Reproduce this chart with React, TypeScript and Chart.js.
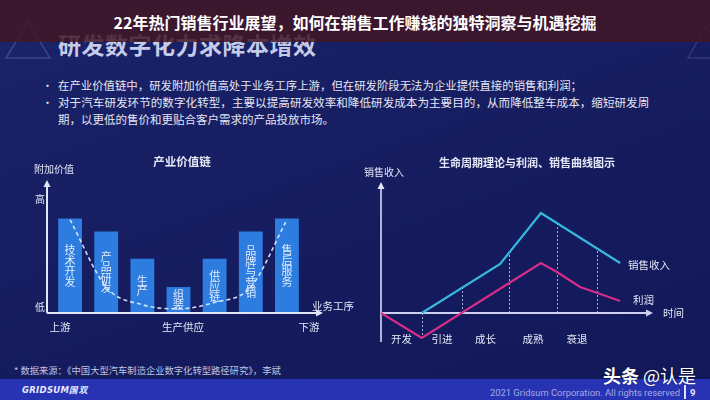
import React, { useEffect, useRef } from 'react';
import { Chart, registerables } from 'chart.js';

Chart.register(...registerables);

// ---------- page texts ----------
const pageTitle = '22年热门销售行业展望，如何在销售工作赚钱的独特洞察与机遇挖掘';
const slideHeading = '研发数字化力求降本增效';
const bulletLines = [
  '在产业价值链中，研发附加价值高处于业务工序上游，但在研发阶段无法为企业提供直接的销售和利润；',
  '对于汽车研发环节的数字化转型，主要以提高研发效率和降低研发成本为主要目的，从而降低整车成本，缩短研发周',
  '期，以更低的售价和更贴合客户需求的产品投放市场。',
];
const footnote = '* 数据来源：《中国大型汽车制造企业数字化转型路径研究》，李斌';

// ---------- left chart: 产业价值链 ----------
const chainTitle = '产业价值链';
const chainStages = ['技术开发', '产品研发', '生产', '组装', '供应链', '品牌与营销', '售后服务'];
const addedValue = [8.0, 6.9, 4.6, 2.2, 4.6, 6.9, 8.0];
const smileCurve = [7.9, 2.2, 0.7, 0.35, 0.9, 2.2, 7.9];
const chainYLabel = '附加价值';
const chainHigh = '高';
const chainLow = '低';
const chainXLabel = '业务工序';
const chainBottomLabels = ['上游', '生产供应', '下游'];

// ---------- right chart: 生命周期 ----------
const cycleTitle = '生命周期理论与利润、销售曲线图示';
const cycleYLabel = '销售收入';
const cycleXLabel = '时间';
const salesName = '销售收入';
const profitName = '利润';
const salesTime = [15, 43.8, 58.8, 87.9];
const salesRevenue = [0, 4.9, 10.0, 5.0];
const profitTime = [0, 15, 58.8, 64.7, 73.2, 79.6, 87.9];
const profitValue = [0, -2.5, 5.0, 4.1, 2.6, 2.0, 1.2];
const phaseBounds = [15, 29.8, 47, 64.7, 79.4];
const phaseNames = ['开发', '引进', '成长', '成熟', '衰退'];

const FONT = '"Noto Sans CJK SC", "Noto Sans", sans-serif';
const LABEL = '#e4e8f6';

function interp(xs: number[], ys: number[], t: number): number {
  if (t < xs[0] || t > xs[xs.length - 1]) return 0;
  for (let i = 0; i < xs.length - 1; i++) {
    if (t >= xs[i] && t <= xs[i + 1]) {
      const f = (t - xs[i]) / (xs[i + 1] - xs[i] || 1);
      return ys[i] + f * (ys[i + 1] - ys[i]);
    }
  }
  return 0;
}

function tri(ctx: CanvasRenderingContext2D, pts: number[][]) {
  ctx.beginPath();
  ctx.moveTo(pts[0][0], pts[0][1]);
  ctx.lineTo(pts[1][0], pts[1][1]);
  ctx.lineTo(pts[2][0], pts[2][1]);
  ctx.closePath();
  ctx.fill();
}

const valueChainDeco = {
  id: 'valueChainDeco',
  afterDatasetDraw(chart: any, args: any) {
    if (args.index !== 1) return;
    const ctx: CanvasRenderingContext2D = chart.ctx;
    ctx.save();
    ctx.font = `11px ${FONT}`;
    ctx.fillStyle = 'rgba(235,242,255,0.95)';
    ctx.textAlign = 'center';
    ctx.textBaseline = 'middle';
    args.meta.data.forEach((bar: any, i: number) => {
      const p = bar.getProps(['x', 'y', 'base'], true);
      const chars = Array.from(chainStages[i]);
      const lh = 10.5;
      const mid = (p.y + p.base) / 2;
      const start = mid - ((chars.length - 1) * lh) / 2;
      chars.forEach((c, j) => ctx.fillText(c, p.x, start + j * lh));
    });
    ctx.restore();
  },
  afterDraw(chart: any) {
    const ctx: CanvasRenderingContext2D = chart.ctx;
    const ca = chart.chartArea;
    const ax = ca.left - 5;
    const B = ca.bottom;
    ctx.save();
    ctx.strokeStyle = '#dfe6f8';
    ctx.fillStyle = '#dfe6f8';
    ctx.lineWidth = 2;
    ctx.beginPath();
    ctx.moveTo(ax, B);
    ctx.lineTo(ax, ca.top - 9);
    ctx.moveTo(ax, B);
    ctx.lineTo(ca.right + 12, B);
    ctx.stroke();
    tri(ctx, [[ax, ca.top - 15], [ax - 3.5, ca.top - 8], [ax + 3.5, ca.top - 8]]);
    tri(ctx, [[ca.right + 18, B], [ca.right + 11, B - 3.5], [ca.right + 11, B + 3.5]]);

    ctx.fillStyle = LABEL;
    ctx.textBaseline = 'middle';
    ctx.textAlign = 'center';
    ctx.font = `bold 11.5px ${FONT}`;
    ctx.fillText(chainTitle, ca.left + 130, 17);
    ctx.font = `10px ${FONT}`;
    ctx.fillText(chainYLabel, ax + 7, ca.top - 26);
    ctx.fillText(chainHigh, ax - 7, ca.top + 4);
    ctx.fillText(chainLow, ax - 7, B - 6);
    ctx.textAlign = 'left';
    ctx.font = `10.5px ${FONT}`;
    ctx.fillText(chainXLabel, ca.right + 7, B - 7);
    ctx.textAlign = 'center';
    ctx.fillText(chainBottomLabels[0], ax + 13, B + 14);
    ctx.fillText(chainBottomLabels[1], ca.left + 131, B + 14);
    ctx.fillText(chainBottomLabels[2], ca.right + 4, B + 14);
    ctx.restore();
  },
};

const lifeCycleDeco = {
  id: 'lifeCycleDeco',
  beforeDatasetsDraw(chart: any) {
    const ctx: CanvasRenderingContext2D = chart.ctx;
    const ca = chart.chartArea;
    const xs = chart.scales.x;
    const ys = chart.scales.y;
    const y0 = ys.getPixelForValue(0);
    ctx.save();
    ctx.strokeStyle = 'rgba(215,222,255,0.75)';
    ctx.lineWidth = 1;
    ctx.setLineDash([2, 2]);
    phaseBounds.forEach((b) => {
      const s = interp(salesTime, salesRevenue, b);
      const p = interp(profitTime, profitValue, b);
      const v = Math.abs(s) >= Math.abs(p) ? s : p;
      const x = Math.round(xs.getPixelForValue(b)) + 0.5;
      ctx.beginPath();
      ctx.moveTo(x, y0);
      ctx.lineTo(x, ys.getPixelForValue(v));
      ctx.stroke();
    });
    ctx.setLineDash([]);
    ctx.strokeStyle = '#e4e6f8';
    ctx.fillStyle = '#e4e6f8';
    ctx.lineWidth = 1.5;
    ctx.beginPath();
    ctx.moveTo(ca.left, ca.bottom);
    ctx.lineTo(ca.left, ca.top + 6);
    ctx.stroke();
    tri(ctx, [[ca.left, ca.top], [ca.left - 3.5, ca.top + 7], [ca.left + 3.5, ca.top + 7]]);
    ctx.strokeStyle = '#cfd0f2';
    ctx.fillStyle = '#cfd0f2';
    ctx.lineWidth = 2;
    ctx.beginPath();
    ctx.moveTo(ca.left, y0);
    ctx.lineTo(ca.right - 6, y0);
    ctx.stroke();
    tri(ctx, [[ca.right, y0], [ca.right - 7, y0 - 3.5], [ca.right - 7, y0 + 3.5]]);
    ctx.restore();
  },
  afterDraw(chart: any) {
    const ctx: CanvasRenderingContext2D = chart.ctx;
    const ca = chart.chartArea;
    const xs = chart.scales.x;
    const ys = chart.scales.y;
    const y0 = ys.getPixelForValue(0);
    ctx.save();
    ctx.fillStyle = LABEL;
    ctx.textBaseline = 'middle';
    ctx.textAlign = 'center';
    ctx.font = `bold 11px ${FONT}`;
    ctx.fillText(cycleTitle, 167, 18);
    ctx.font = `10px ${FONT}`;
    ctx.fillText(cycleYLabel, ca.left + 3, ca.top - 10);
    ctx.font = `10.5px ${FONT}`;
    const bounds = [0, ...phaseBounds];
    phaseNames.forEach((n, i) => {
      const mid = (bounds[i] + bounds[i + 1]) / 2;
      ctx.fillText(n, xs.getPixelForValue(mid), y0 + 26);
    });
    ctx.textAlign = 'left';
    ctx.fillText(cycleXLabel, ca.right + 10, y0);
    const sx = xs.getPixelForValue(salesTime[salesTime.length - 1]);
    const sy = ys.getPixelForValue(salesRevenue[salesRevenue.length - 1]);
    ctx.fillText(salesName, sx + 8, sy + 2);
    const px = xs.getPixelForValue(profitTime[profitTime.length - 1]);
    const py = ys.getPixelForValue(profitValue[profitValue.length - 1]);
    ctx.fillText(profitName, px + 13, py - 1);
    ctx.restore();
  },
};

function ValueChainChart() {
  const ref = useRef<HTMLCanvasElement>(null);
  useEffect(() => {
    if (!ref.current) return;
    const chart = new Chart(ref.current, {
      type: 'bar',
      data: {
        labels: chainStages,
        datasets: [
          {
            type: 'line',
            data: smileCurve,
            borderColor: 'rgba(225,236,255,0.92)',
            borderWidth: 1.6,
            borderDash: [4, 3],
            pointRadius: 0,
            cubicInterpolationMode: 'monotone',
            fill: false,
          } as any,
          {
            type: 'bar',
            data: addedValue,
            backgroundColor: '#2d7ce0',
            borderWidth: 0,
            barPercentage: 0.66,
            categoryPercentage: 1,
          } as any,
        ],
      },
      options: {
        responsive: false,
        animation: false,
        layout: { padding: { left: 32, right: 55, top: 50, bottom: 27 } },
        plugins: { legend: { display: false }, tooltip: { enabled: false } },
        scales: {
          x: { display: false, offset: true },
          y: { display: false, min: 0, max: 10 },
        },
      },
      plugins: [valueChainDeco],
    });
    return () => chart.destroy();
  }, []);
  return <canvas ref={ref} width={340} height={195} style={{ display: 'block' }} />;
}

function LifeCycleChart() {
  const ref = useRef<HTMLCanvasElement>(null);
  useEffect(() => {
    if (!ref.current) return;
    const chart = new Chart(ref.current, {
      type: 'line',
      data: {
        datasets: [
          {
            label: salesName,
            data: salesTime.map((t, i) => ({ x: t, y: salesRevenue[i] })),
            borderColor: '#36b8de',
            borderWidth: 2.2,
            pointRadius: 0,
            tension: 0,
            fill: false,
          },
          {
            label: profitName,
            data: profitTime.map((t, i) => ({ x: t, y: profitValue[i] })),
            borderColor: '#d62e88',
            borderWidth: 2.2,
            pointRadius: 0,
            tension: 0,
            fill: false,
          },
        ],
      },
      options: {
        responsive: false,
        animation: false,
        layout: { padding: { left: 21, right: 57, top: 37, bottom: 13 } },
        plugins: { legend: { display: false }, tooltip: { enabled: false } },
        scales: {
          x: { type: 'linear', display: false, min: 0, max: 100 },
          y: { display: false, min: -2.9, max: 13.1 },
        },
      },
      plugins: [lifeCycleDeco],
    });
    return () => chart.destroy();
  }, []);
  return <canvas ref={ref} width={350} height={210} style={{ display: 'block' }} />;
}

const abs = (left: number, cy: number, lh: number, extra: React.CSSProperties = {}): React.CSSProperties => ({
  position: 'absolute',
  left,
  top: cy - lh / 2,
  lineHeight: `${lh}px`,
  whiteSpace: 'nowrap',
  ...extra,
});

export default function App() {
  return (
    <div
      style={{
        position: 'fixed',
        left: 0,
        top: 0,
        width: 710,
        height: 400,
        overflow: 'hidden',
        background: 'linear-gradient(160deg, #1b236a 0%, #161d60 45%, #121858 100%)',
        fontFamily: FONT,
      }}
    >
      <svg width={710} height={70} style={{ position: 'absolute', left: 0, top: 0 }}>
        <polygon points="6,58 28,22 50,58" fill="none" stroke="rgba(150,160,225,0.28)" strokeWidth={1.5} />
        <polygon points="688,58 706,26 724,58" fill="none" stroke="rgba(150,160,225,0.22)" strokeWidth={1.5} />
      </svg>
      <div style={abs(58, 44, 26, { fontSize: 23, fontWeight: 700, color: '#c6cce8', letterSpacing: 0.5 })}>
        {slideHeading}
      </div>
      <div
        style={{
          position: 'absolute',
          left: 0,
          top: 0,
          width: 710,
          height: 42,
          background: 'rgba(66,22,36,0.85)',
        }}
      />
      <div
        style={{
          position: 'absolute',
          left: 0,
          top: 1,
          width: 710,
          lineHeight: '42px',
          textAlign: 'center',
          color: '#ffffff',
          fontSize: 16,
          fontWeight: 700,
          whiteSpace: 'nowrap',
        }}
      >
        {pageTitle}
      </div>

      <div style={abs(42, 85, 16, { fontSize: 11, color: '#e4e7f4' })}>•</div>
      <div style={abs(42, 102, 16, { fontSize: 11, color: '#e4e7f4' })}>•</div>
      <div style={abs(58, 85, 16, { fontSize: 11.4, color: '#e4e7f4' })}>{bulletLines[0]}</div>
      <div style={abs(58, 102, 16, { fontSize: 11.6, color: '#e4e7f4' })}>{bulletLines[1]}</div>
      <div style={abs(58, 119, 16, { fontSize: 11.5, color: '#e4e7f4' })}>{bulletLines[2]}</div>

      <div style={{ position: 'absolute', left: 20, top: 145 }}>
        <ValueChainChart />
      </div>
      <div style={{ position: 'absolute', left: 360, top: 145 }}>
        <LifeCycleChart />
      </div>

      <div style={abs(14, 370, 12, { fontSize: 9.3, color: '#bfc4e2' })}>{footnote}</div>

      <div style={{ position: 'absolute', left: 0, top: 379, width: 710, height: 21, background: '#2833b3' }} />
      <div
        style={abs(22, 390, 12, {
          fontSize: 8.5,
          fontWeight: 700,
          fontStyle: 'italic',
          color: '#e6eaff',
          fontFamily: '"DejaVu Sans", sans-serif',
          letterSpacing: 0.3,
        })}
      >
        GRIDSUM国双
      </div>
      <div
        style={{
          position: 'absolute',
          right: 30,
          top: 386,
          lineHeight: '13px',
          fontSize: 9.4,
          color: '#a3abe2',
          fontFamily: 'Roboto, sans-serif',
          whiteSpace: 'nowrap',
        }}
      >
        2021 Gridsum Corporation. All rights reserved
      </div>
      <div style={{ position: 'absolute', left: 684, top: 385, width: 1.5, height: 14, background: '#dfe3ff' }} />
      <div
        style={abs(690, 392, 13, { fontSize: 9.5, color: '#e6e9ff', fontFamily: 'Roboto, sans-serif', fontWeight: 700 })}
      >
        9
      </div>
      <div
        style={abs(603, 375, 22, {
          fontSize: 18,
          color: '#ffffff',
          textShadow: '0 0 2px rgba(0,0,0,0.45)',
        })}
      >
        <span style={{ fontWeight: 700 }}>头条</span>
        <span> @认是</span>
      </div>
    </div>
  );
}
